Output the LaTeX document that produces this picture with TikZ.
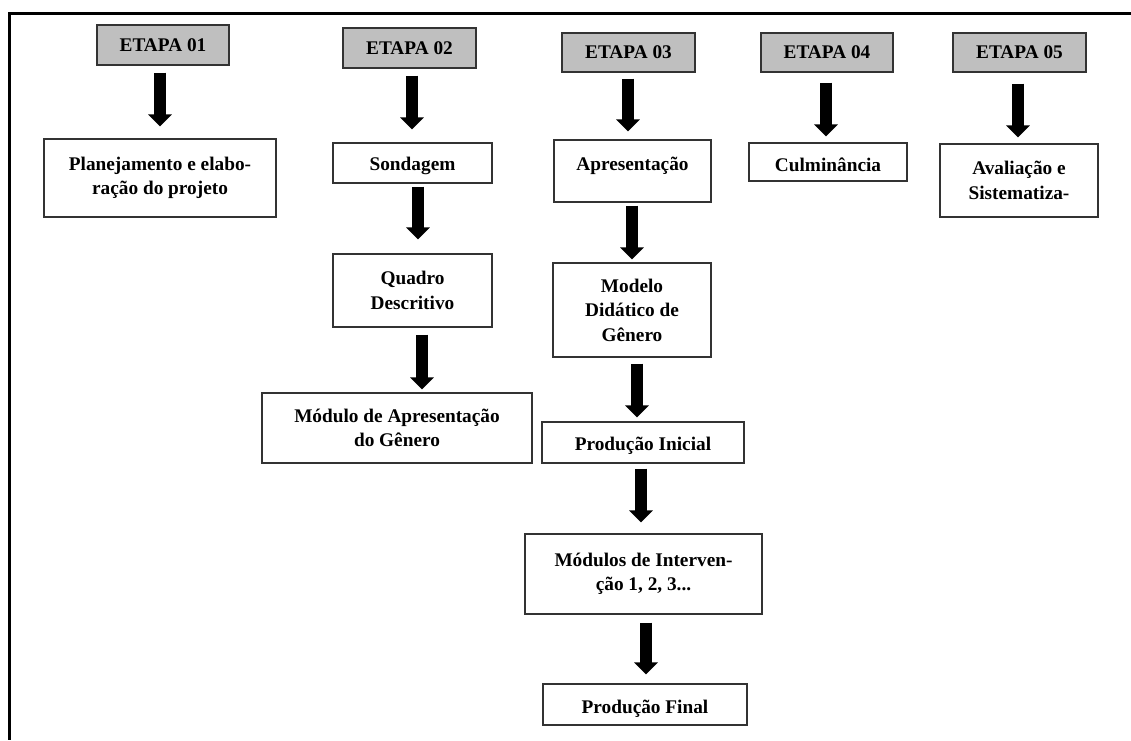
\documentclass[tikz,border=0pt]{standalone}
\usepackage{fontspec}
\setmainfont{Liberation Serif}
\usetikzlibrary{arrows.meta}
\newcommand{\shifttxt}[2]{\raisebox{#1}[\height][\depth]{#2}}
\begin{document}
\begin{tikzpicture}[x=1pt,y=-1pt,
  box/.style={draw=black!80, line width=1.2pt, fill=white, inner sep=0pt, align=center,
    font=\fontsize{19.3}{24.5}\selectfont\bfseries},
  etapa/.style={box, fill=black!25},
  bar/.style={line width=12pt, black, -{Triangle[width=23pt,length=12pt]}},
  frame/.style={line width=2.6pt, black}
]
\useasboundingbox (0,0) rectangle (1131,740);
\coordinate (ftr) at (1131,13.5);
\coordinate (ftl) at (9.5,13.5);
\coordinate (fbl) at (9.5,740);
\draw[frame] (ftr) -- (ftl) -- (fbl);

% column 1
\node[etapa, minimum width=132pt, minimum height=40pt] (e1) at (163,45) {ETAPA 01};
\node[box, minimum width=232pt, minimum height=78pt] (p1) at (160,178) {Planejamento e elabo-\\ração do projeto};

% column 2
\node[etapa, minimum width=133pt, minimum height=40pt] (e2) at (409.5,48) {ETAPA 02};
\node[box, minimum width=159pt, minimum height=40pt] (s2) at (412.5,163) {\shifttxt{-3pt}{Sondagem}};
\node[box, minimum width=159pt, minimum height=73pt] (q2) at (412.5,290.5) {Quadro\\Descritivo};
\node[box, minimum width=270pt, minimum height=70pt] (m2) at (397,428) {Módulo de Apresentação\\do Gênero};

% column 3
\node[etapa, minimum width=133pt, minimum height=39pt] (e3) at (628.5,52.5) {ETAPA 03};
\node[box, minimum width=157pt, minimum height=62pt] (a3) at (632.5,171) {\shifttxt{5pt}{Apresentação}};
\node[box, minimum width=158pt, minimum height=94pt] (d3) at (632,310) {Modelo\\Didático de\\Gênero};
\node[box, minimum width=202pt, minimum height=41pt] (pi3) at (643,442.5) {\shifttxt{-3pt}{Produção Inicial}};
\node[box, minimum width=237pt, minimum height=80pt] (mi3) at (643.5,574) {Módulos de Interven-\\ção 1, 2, 3...};
\node[box, minimum width=204pt, minimum height=41pt] (pf3) at (645,704.5) {\shifttxt{-4pt}{Produção Final}};

% column 4
\node[etapa, minimum width=132pt, minimum height=39pt] (e4) at (827,52.5) {ETAPA 04};
\node[box, minimum width=158pt, minimum height=38pt] (c4) at (828,162) {\shifttxt{-3pt}{Culminância}};

% column 5
\node[etapa, minimum width=133pt, minimum height=39pt] (e5) at (1019.5,52.5) {ETAPA 05};
\node[box, minimum width=158pt, minimum height=73pt] (v5) at (1019,180.5) {Avaliação e\\Sistematiza-};

% arrows
\draw[bar] ([shift={(-3,7)}]e1.south) -- ([shift={(0,-12)}]p1.north);
\draw[bar] ([shift={(2.5,7)}]e2.south) -- ([shift={(-0.5,-13)}]s2.north);
\draw[bar] ([shift={(5.5,3)}]s2.south) -- ([shift={(5.5,-14)}]q2.north);
\draw[bar] ([shift={(9.5,7)}]q2.south) -- ([shift={(25,-3)}]m2.north);
\draw[bar] ([shift={(-0.5,6)}]e3.south) -- ([shift={(-4.5,-8)}]a3.north);
\draw[bar] ([shift={(-0.5,3)}]a3.south) -- ([shift={(0,-3)}]d3.north);
\draw[bar] ([shift={(5,6)}]d3.south) -- ([shift={(-6,-4)}]pi3.north);
\draw[bar] ([shift={(-2,5)}]pi3.south) -- ([shift={(-2.5,-11)}]mi3.north);
\draw[bar] ([shift={(2.5,8)}]mi3.south) -- ([shift={(1,-9)}]pf3.north);
\draw[bar] ([shift={(-1,10)}]e4.south) -- ([shift={(-2,-6)}]c4.north);
\draw[bar] ([shift={(-1.5,11)}]e5.south) -- ([shift={(-1,-6)}]v5.north);
\end{tikzpicture}
\end{document}
